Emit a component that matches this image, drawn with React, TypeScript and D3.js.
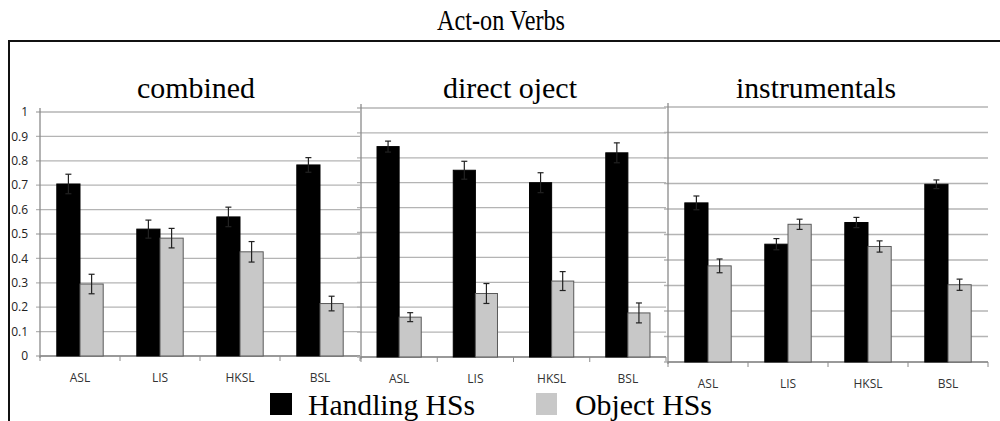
import React from 'react';
import * as d3 from 'd3';

const categories = ['ASL', 'LIS', 'HKSL', 'BSL'];
const panelTitles = ['combined', 'direct oject', 'instrumentals'];
const seriesNames = ['Handling HSs', 'Object HSs'];
const yTicks = [0, 0.1, 0.2, 0.3, 0.4, 0.5, 0.6, 0.7, 0.8, 0.9, 1];

const combinedHandling = [0.705, 0.52, 0.57, 0.783];
const combinedHandlingErr = [0.04, 0.037, 0.04, 0.03];
const combinedObject = [0.295, 0.483, 0.427, 0.215];
const combinedObjectErr = [0.04, 0.04, 0.042, 0.03];

const directHandling = [0.845, 0.75, 0.7, 0.82];
const directHandlingErr = [0.022, 0.036, 0.04, 0.04];
const directObject = [0.16, 0.255, 0.305, 0.177];
const directObjectErr = [0.018, 0.04, 0.038, 0.04];

const instrHandling = [0.624, 0.462, 0.547, 0.697];
const instrHandlingErr = [0.027, 0.022, 0.02, 0.017];
const instrObject = [0.377, 0.54, 0.453, 0.303];
const instrObjectErr = [0.027, 0.02, 0.022, 0.022];

// where each panel sits on the page (title widths)
const layout = [
  { x0: 40, x1: 360, yTop: 112, yBottom: 356, titleX: 196, titleW: 118 },
  { x0: 361, x1: 666, yTop: 108, yBottom: 357, titleX: 510, titleW: 134 },
  { x0: 668, x1: 988, yTop: 107, yBottom: 362, titleX: 816, titleW: 160 },
];

const panelData = [
  [combinedHandling, combinedHandlingErr, combinedObject, combinedObjectErr],
  [directHandling, directHandlingErr, directObject, directObjectErr],
  [instrHandling, instrHandlingErr, instrObject, instrObjectErr],
];

const fills = ['#000000', '#c8c8c8'];
const strokes = ['#000000', '#5a5a5a'];
const serif = 'Liberation Serif';
const sans = 'Open Sans';

function Panel({ idx }: { idx: number }) {
  const L = layout[idx];
  const [h, hErr, o, oErr] = panelData[idx];
  const x = d3.scaleBand().domain(categories).range([L.x0, L.x1]).paddingInner(0.42).paddingOuter(0.21);
  const xs = d3.scaleBand().domain(seriesNames).range([0, x.bandwidth()]);
  const y = d3.scaleLinear().domain([0, 1]).range([L.yBottom, L.yTop]);
  const step = x.step();
  const series = [
    { name: seriesNames[0], vals: h, errs: hErr },
    { name: seriesNames[1], vals: o, errs: oErr },
  ];

  return (
    <g>
      <text
        x={L.titleX - L.titleW / 2}
        y={98}
        fontFamily={serif}
        fontSize={30}
        textLength={L.titleW}
        lengthAdjust="spacingAndGlyphs"
        fill="#000"
      >
        {panelTitles[idx]}
      </text>
      {yTicks.map((t) => (
        <line key={t} x1={L.x0 - 4} x2={L.x1} y1={y(t)} y2={y(t)} stroke="#b4b4b4" strokeWidth={1.3} />
      ))}
      <line x1={L.x0} x2={L.x0} y1={L.yTop - 4} y2={L.yBottom + 2} stroke="#8a8a8a" strokeWidth={1.3} />
      <line x1={L.x0} x2={L.x1} y1={L.yBottom} y2={L.yBottom} stroke="#8a8a8a" strokeWidth={1.3} />
      {d3.range(categories.length + 1).map((i) => (
        <line key={i} x1={L.x0 + i * step} x2={L.x0 + i * step} y1={L.yBottom} y2={L.yBottom + 5} stroke="#8a8a8a" strokeWidth={1} />
      ))}
      {idx === 0 &&
        yTicks.map((t) => (
          <text key={t} x={28} y={y(t)} dy="0.35em" textAnchor="end" fontFamily={sans} fontSize={12} fill="#222">
            {t}
          </text>
        ))}
      {series.map((s, si) =>
        categories.map((c, ci) => {
          const bx = (x(c) as number) + (xs(s.name) as number);
          const bw = xs.bandwidth();
          const cx = bx + bw / 2;
          return (
            <g key={c + si}>
              <rect x={bx} y={y(s.vals[ci])} width={bw} height={L.yBottom - y(s.vals[ci])} fill={fills[si]} stroke={strokes[si]} strokeWidth={1} />
              <line x1={cx} x2={cx} y1={y(s.vals[ci] + s.errs[ci])} y2={y(s.vals[ci] - s.errs[ci])} stroke="#222" strokeWidth={1.2} />
              <line x1={cx - 3} x2={cx + 3} y1={y(s.vals[ci] + s.errs[ci])} y2={y(s.vals[ci] + s.errs[ci])} stroke="#222" strokeWidth={1.2} />
              <line x1={cx - 3} x2={cx + 3} y1={y(s.vals[ci] - s.errs[ci])} y2={y(s.vals[ci] - s.errs[ci])} stroke="#222" strokeWidth={1.2} />
            </g>
          );
        })
      )}
      {categories.map((c) => (
        <text key={c} x={(x(c) as number) + x.bandwidth() / 2} y={L.yBottom + 26} textAnchor="middle" fontFamily={sans} fontSize={12} fill="#333">
          {c}
        </text>
      ))}
    </g>
  );
}

export default function App() {
  const width = 1000;
  const height = 421;
  return (
    <svg width={width} height={height} style={{ position: 'absolute', left: 0, top: 0, background: '#fff' }}>
      <rect width={width} height={height} fill="#fff" />
      <text x={437} y={30} fontFamily={serif} fontSize={29} textLength={128} lengthAdjust="spacingAndGlyphs" fill="#000">
        Act-on Verbs
      </text>
      <line x1={9} x2={1000} y1={41} y2={41} stroke="#111" strokeWidth={2} />
      <line x1={9} x2={9} y1={40} y2={421} stroke="#111" strokeWidth={2} />
      {layout.map((_, i) => (
        <Panel key={i} idx={i} />
      ))}
      <rect x={270} y={393} width={22} height={22} fill={fills[0]} />
      <text x={308} y={415} fontFamily={serif} fontSize={29} textLength={167} lengthAdjust="spacingAndGlyphs" fill="#000">
        {seriesNames[0]}
      </text>
      <rect x={536} y={393} width={21} height={22} fill={fills[1]} />
      <text x={575} y={415} fontFamily={serif} fontSize={29} textLength={137} lengthAdjust="spacingAndGlyphs" fill="#000">
        {seriesNames[1]}
      </text>
    </svg>
  );
}
